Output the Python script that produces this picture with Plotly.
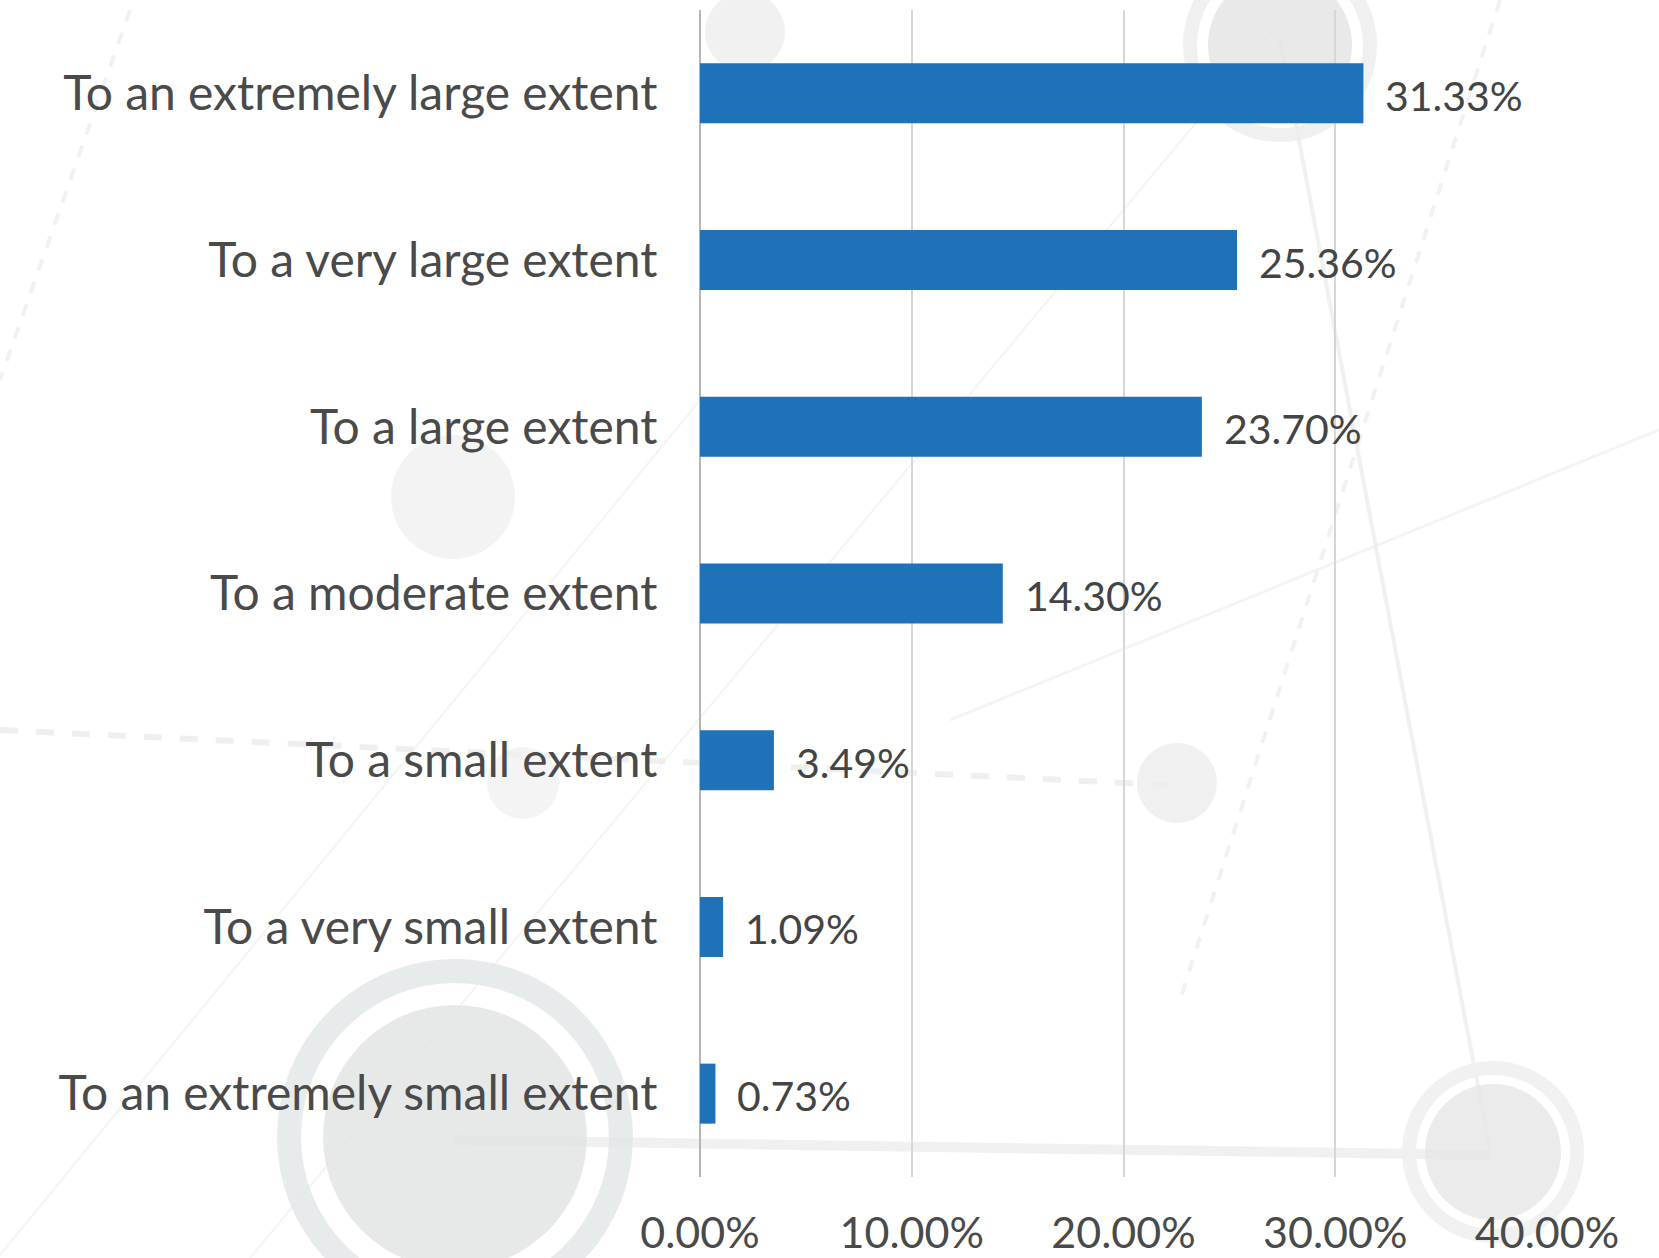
import plotly.graph_objects as go

categories = [
    "To an extremely large extent",
    "To a very large extent",
    "To a large extent",
    "To a moderate extent",
    "To a small extent",
    "To a very small extent",
    "To an extremely small extent",
]
values = [31.33, 25.36, 23.70, 14.30, 3.49, 1.09, 0.73]
value_labels = ["31.33%", "25.36%", "23.70%", "14.30%", "3.49%", "1.09%", "0.73%"]
tick_vals = [0, 10, 20, 30, 40]
tick_text = ["0.00%", "10.00%", "20.00%", "30.00%", "40.00%"]

W, H = 1659, 1258
L, R, T, B = 700, 112, 10, 81
PW, PH = W - L - R, H - T - B
FONT = "Lato, 'Open Sans', sans-serif"
TXT = "#4a4a4a"


def px(x):
    return (x - L) / PW


def py(y):
    return 1 - (y - T) / PH


fig = go.Figure()
fig.add_trace(go.Bar(
    x=values, y=categories, orientation="h",
    marker=dict(color="#1F71B8", line=dict(width=0)),
    width=0.36, hoverinfo="skip",
))

# background decoration (faint circles and lines)
shapes = []
def circle(cx, cy, r, fill=None, line=None, lw=0):
    shapes.append(dict(type="circle", xref="paper", yref="paper", layer="below",
                       x0=px(cx - r), x1=px(cx + r), y0=py(cy + r), y1=py(cy - r),
                       fillcolor=fill or "rgba(0,0,0,0)",
                       line=dict(color=line or "rgba(0,0,0,0)", width=lw)))

def seg(x0, y0, x1, y1, color="rgba(225,225,225,0.6)", w=3, dash="solid"):
    shapes.append(dict(type="line", xref="paper", yref="paper", layer="below",
                       x0=px(x0), y0=py(y0), x1=px(x1), y1=py(y1),
                       line=dict(color=color, width=w, dash=dash)))

seg(0, 730, 1170, 785, "rgba(232,232,232,0.7)", 6, "dash")
seg(455, 1140, 1490, 1155, "rgba(236,236,236,0.8)", 10)
seg(0, 1255, 700, 400, "rgba(236,236,236,0.6)", 2)
seg(250, 1258, 1290, 10, "rgba(236,236,236,0.6)", 2)
seg(1280, 40, 1490, 1150, "rgba(234,234,234,0.7)", 4)
seg(130, 10, 0, 380, "rgba(232,232,232,0.6)", 4, "dash")
seg(1659, 430, 950, 720, "rgba(236,236,236,0.6)", 3)
seg(1500, 0, 1180, 1000, "rgba(232,232,232,0.6)", 4, "dash")
circle(455, 1137, 166, line="rgba(225,230,230,0.8)", lw=24)
circle(455, 1137, 132, fill="rgba(225,228,228,0.8)")
circle(1280, 45, 90, line="rgba(236,236,236,0.8)", lw=14)
circle(1280, 45, 72, fill="rgba(228,228,228,0.8)")
circle(745, 32, 40, fill="rgba(238,238,238,0.8)")
circle(453, 497, 62, fill="rgba(238,238,238,0.7)")
circle(523, 783, 36, fill="rgba(240,240,240,0.7)")
circle(1177, 783, 40, fill="rgba(236,236,236,0.8)")
circle(1493, 1152, 84, line="rgba(240,240,240,0.9)", lw=14)
circle(1493, 1152, 68, fill="rgba(230,230,230,0.8)")

annotations = []
for c, v, t in zip(categories, values, value_labels):
    annotations.append(dict(x=v, y=c, xref="x", yref="y", text=t, showarrow=False,
                            xanchor="left", yanchor="middle", xshift=20, yshift=-2,
                            font=dict(family=FONT, size=41, color="#444444")))

fig.update_layout(
    width=W, height=H,
    margin=dict(l=L, r=R, t=T, b=B, pad=0, autoexpand=False),
    paper_bgcolor="white", plot_bgcolor="rgba(0,0,0,0)",
    showlegend=False,
    shapes=shapes,
    annotations=annotations,
    font=dict(family=FONT, color=TXT),
    xaxis=dict(range=[0, 40], tickvals=tick_vals, ticktext=tick_text,
               showgrid=True, gridcolor="#d6d6d6", gridwidth=2,
               zeroline=True, zerolinecolor="#b5b5b5", zerolinewidth=2,
               showline=False, ticks="outside", ticklen=18, tickcolor="rgba(0,0,0,0)",
               automargin=False,
               tickfont=dict(family=FONT, size=43, color=TXT), fixedrange=True),
    yaxis=dict(categoryorder="array", categoryarray=categories[::-1],
               range=[-0.5, 6.5], showgrid=False, zeroline=False, showline=False,
               ticks="outside", ticklen=32, tickcolor="rgba(0,0,0,0)",
               automargin=False,
               tickfont=dict(family=FONT, size=48, color=TXT), fixedrange=True),
)

fig.write_html("out.html", config={"displayModeBar": False})
